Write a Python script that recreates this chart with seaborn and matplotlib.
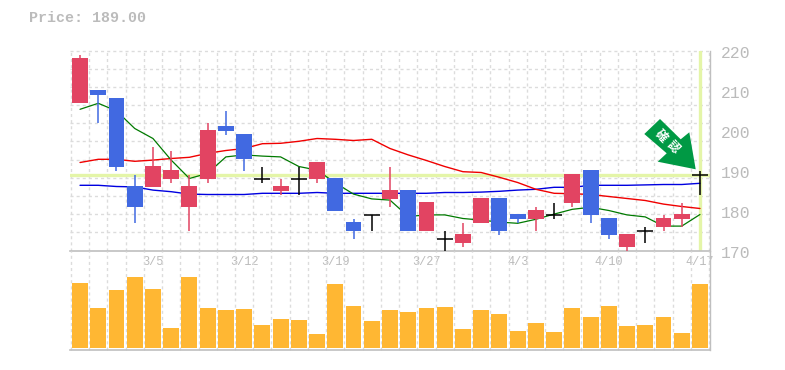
import numpy as np
import pandas as pd
import matplotlib
matplotlib.use("Agg")
import matplotlib.pyplot as plt
from matplotlib.patches import Polygon
from matplotlib.transforms import ScaledTranslation
import seaborn as sns

opens = [207,210,208,186,186,188,181,188,201,199,188,185,188,188,188,177,179,183,185,175,173,172,177,183,179,178,179,182,190,178,171,175,176,178,189]
closes = [218,209,191,181,191,190,186,200,200,193,188,186,188,192,180,175,179,185,175,182,173,174,183,175,178,180,179,189,179,174,174,175,178,179,189]
highs = [219,210,208,189,196,195,189,202,205,199,191,188,191,192,188,178,179,191,185,182,175,177,183,183,179,181,182,189,190,178,174,176,179,182,190]
lows = [207,202,190,177,186,187,175,187,199,190,187,184,184,187,180,173,175,181,175,175,170,171,177,174,177,175,178,181,177,173,170,172,175,176,184]
ma_green = [205.3,206.8,204.9,200.5,198,192.6,188,189.3,193.4,193.9,193.6,193.4,191,190.1,186.9,184.1,182.9,182.6,178.5,178.9,178.9,178,177.6,177.1,176.8,177.8,179.1,180.3,180.8,180,178.9,178.4,176.1,176.1,179]
ma_red = [192,192.8,192.8,192.3,192.6,193,193.3,194.3,195,195.5,196.7,196.8,197.3,198,197.8,197.5,197.8,195.5,193.9,192.5,191,189.7,189.5,188.3,187,185.3,184.3,184.2,184,183.5,183,182.5,181.6,181,180.5]
ma_blue = [186.3,186.3,186,185.9,185.1,184.7,184.1,184,184,184,184.3,184.3,184.3,184.5,184.3,184.3,184.3,184.3,184.3,184.3,184.5,184.5,184.6,184.8,185.1,185.3,185.8,185.8,186.3,186.3,186.3,186.4,186.5,186.5,186.8]
volumes = [65,40,58,71,59,20,71,40,38,39,23,29,28,14,64,42,27,38,36,40,41,19,38,34,17,25,16,40,31,42,22,23,31,15,64]
x_labels = ["3/5","3/12","3/19","3/27","4/3","4/10","4/17"]
x_label_pos = [4,9,14,19,24,29,34]
y_labels = [170,180,190,200,210,220]
price_now = 189.0
arrow_chars = ["確", "認"]

UP, DOWN, DOJI = "#E24462", "#4169E1", "#000000"
GRID, TXT, EDGE = "#DCDCDC", "#BBBBBB", "#BFBFBF"
HL = "#E4F5A8"
W, H = 785, 370

sns.set_theme(style="white", rc={"axes.facecolor": "white"})
plt.rcParams['font.family'] = ['Liberation Mono', 'Noto Sans CJK JP', 'DejaVu Sans']
fig = plt.figure(figsize=(W/100, H/100), dpi=100, facecolor="white")
ax = fig.add_axes([70/W, 1-250.5/H, 640/W, 200/H])
av = fig.add_axes([70/W, 1-350/H, 640/W, 99.5/H])
idx = np.arange(len(opens))
xlim = (-0.55, 34.55)
dash = (0, (2.2, 2.2))

for a in (ax, av):
    a.set_xlim(*xlim)
    a.set_facecolor("none")
    for i in np.arange(0, 36) - 0.5:
        a.axvline(i, color=GRID, lw=1, ls=dash, zorder=0, clip_on=False)
    for s in a.spines.values():
        s.set_visible(False)
    a.spines["right"].set_visible(True)
    a.spines["right"].set_color(EDGE)
    a.spines["right"].set_linewidth(1)
    a.spines["bottom"].set_visible(True)
    a.spines["bottom"].set_color(EDGE)
    a.spines["bottom"].set_linewidth(1.2)

ax.set_ylim(170, 220)
for v in np.linspace(170, 220, 12)[1:]:
    ax.axhline(v, color=GRID, lw=1, ls=dash, zorder=0, clip_on=False)
ax.axhline(price_now, color=HL, lw=2.4, zorder=1)
ax.axvline(idx[-1], color=HL, lw=2.4, zorder=1)

df = pd.DataFrame({"x": idx, "green": ma_green, "red": ma_red, "blue": ma_blue})
for col, c, lw in (("blue", "#0000E0", 1), ("red", "#F00000", 1), ("green", "#007A00", 0.9)):
    sns.lineplot(data=df, x="x", y=col, ax=ax, color=c, lw=lw, zorder=2, legend=False)

for i, o, c, h, l in zip(idx, opens, closes, highs, lows):
    col = DOJI if o == c else (UP if c > o else DOWN)
    ax.vlines(i, l, h, color=col, lw=1.1, zorder=3)
    if o == c:
        ax.hlines(o, i-0.44, i+0.44, color=col, lw=1.1, zorder=3)
    else:
        ax.bar(i, abs(c-o)+0.2, bottom=min(o, c)-0.1, width=0.87, color=col, lw=0, zorder=4)

ax.set_xlabel(""); ax.set_ylabel("")
ax.set_xticks(x_label_pos, x_labels)
ax.tick_params(axis="x", length=0, pad=4, labelsize=8.6, labelcolor=TXT)
ax.yaxis.tick_right()
ax.set_yticks(y_labels, [str(v) for v in y_labels])
ax.tick_params(axis="y", length=0, pad=7.5, labelsize=11.8, labelcolor=TXT)
off = ScaledTranslation(0, -1/100, fig.dpi_scale_trans)
for t in ax.get_yticklabels():
    t.set_transform(t.get_transform() + off)

vdf = pd.DataFrame({"x": idx, "v": volumes})
av.set_ylim(-2, 97.5)
av.bar(vdf["x"], vdf["v"], width=0.87, color="#FFB733", lw=0, zorder=2)
av.set_xticks([]); av.set_yticks([])
av.set_xlabel(""); av.set_ylabel("")

fig.text(29/W, 1-18/H, f"Price: {price_now:.2f}", color=TXT, fontsize=10.8,
         fontweight="bold", va="center", ha="left")

# annotation arrow, in pixel coordinates of the figure
pts = [(660,119),(680.7,139.3),(689.3,132.3),(695.7,169.3),(657.7,161.7),(666.7,153.3),(644.3,134)]
fig.add_artist(Polygon([(x/W, 1-y/H) for x, y in pts], closed=True, transform=fig.transFigure,
                       facecolor="#009944", edgecolor="none", zorder=6))
for ch, (px, py) in zip(arrow_chars, [(661, 135.5), (673, 146.5)]):
    fig.text(px/W, 1-py/H, ch, color="white", fontsize=8.5, fontweight="bold", rotation=-45,
             ha="center", va="center", rotation_mode="anchor",
             family=['Noto Sans CJK JP', 'DejaVu Sans'], zorder=7)

fig.savefig("out.png", dpi=100)
